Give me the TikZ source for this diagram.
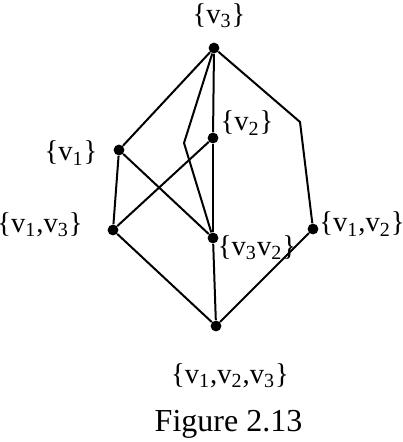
\documentclass[tikz,border=0pt]{standalone}
\usepackage{fontspec}
\setmainfont{Liberation Serif}
\tikzset{
  vert/.style={circle,fill=black,inner sep=0pt,minimum size=5.4pt},
  lbl/.style={inner sep=0pt,font=\fontsize{14.3}{17}\selectfont},
  edge/.style={line width=1pt}
}
\newcommand{\sv}[1]{v\textsubscript{#1}}
\begin{document}
\begin{tikzpicture}[x=0.5pt,y=-0.5pt]
\useasboundingbox (0,0) rectangle (402,442);
% vertices
\node[vert] (top) at (214,48) {};
\node[vert] (a) at (213,138) {};
\node[vert] (b) at (119,150) {};
\node[vert] (ab) at (113,230) {};
\node[vert] (ac) at (213,238) {};
\node[vert] (bc) at (313,229) {};
\node[vert] (bot) at (216,326) {};
\coordinate (kl) at (184,143);
\coordinate (kr) at (300,122);

% labels
\node[lbl] (ltop) at (219,16) {\{\sv{3}\}};
\node[lbl] (la) at (247,123) {\{\sv{2}\}};
\node[lbl] (lb) at (71,153) {\{\sv{1}\}};
\node[lbl] (lab) at (40,225) {\{\sv{1},\sv{3}\}};
\node[lbl] (lac) at (257,248) {\{\sv{3}\sv{2}\}};
\node[lbl] (lbc) at (362,224) {\{\sv{1},\sv{2}\}};
\node[lbl] (lbot) at (230,376) {\{\sv{1},\sv{2},\sv{3}\}};
\node[lbl,font=\fontsize{16}{19}\selectfont] (cap) at (228.5,424) {Figure 2.13};

\draw[edge] (top)--(b);
\draw[edge] (top)--(a);
\draw[edge] (top)--(kl)--(ac);
\draw[edge] (top)--(kr)--(bc);
\draw[edge] (a)--(ac);
\draw[edge] (a)--(ab);
\draw[edge] (b)--(ab);
\draw[edge] (b)--(ac);
\draw[edge] (ab)--(bot);
\draw[edge] (ac)--(bot);
\draw[edge] (bc)--(bot);
\end{tikzpicture}
\end{document}
